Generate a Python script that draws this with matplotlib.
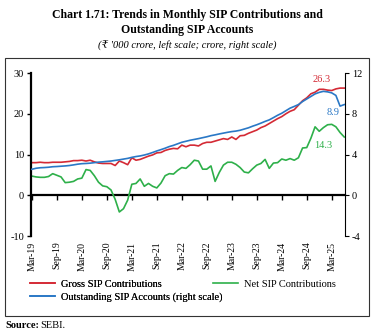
import numpy as np
import matplotlib.pyplot as plt
from matplotlib.lines import Line2D
from matplotlib.patches import Rectangle

plt.rcParams['font.family'] = ['Liberation Serif', 'DejaVu Serif']
plt.rcParams['axes.unicode_minus'] = False

# Monthly series, Mar-19 to Jun-25
tick_labels = ['Mar-19', 'Sep-19', 'Mar-20', 'Sep-20', 'Mar-21', 'Sep-21', 'Mar-22',
               'Sep-22', 'Mar-23', 'Sep-23', 'Mar-24', 'Sep-24', 'Mar-25']

gross_sip = [8.0, 8.0, 8.1, 8.0, 8.0, 8.1, 8.1, 8.1, 8.2, 8.3, 8.5, 8.5,
             8.6, 8.4, 8.6, 8.2, 7.9, 7.8, 7.8, 7.8, 7.3, 8.4, 8.0, 7.5,
             9.2, 8.6, 8.8, 9.2, 9.6, 9.9, 10.4, 10.5, 11.0, 11.3, 11.5, 11.4,
             12.3, 11.9, 12.3, 12.3, 12.1, 12.7, 13.0, 13.0, 13.3, 13.6, 13.9, 13.7,
             14.3, 13.7, 14.6, 14.7, 15.2, 15.6, 16.0, 16.6, 17.0, 17.6, 18.2, 18.8,
             19.3, 20.0, 20.6, 21.0, 22.1, 23.2, 23.9, 24.9, 25.3, 26.0, 26.0, 25.8,
             25.7, 26.1, 26.3, 26.3]

net_sip = [4.7, 4.5, 4.4, 4.4, 4.6, 5.3, 4.9, 4.5, 3.1, 3.2, 3.4, 4.0,
           4.2, 6.3, 6.1, 4.8, 3.2, 2.3, 2.1, 1.3, -1.0, -4.1, -3.3, -1.2,
           2.7, 2.9, 4.0, 2.2, 2.9, 2.2, 1.8, 3.0, 4.8, 5.3, 5.2, 6.1,
           6.8, 6.6, 7.5, 8.6, 8.4, 6.4, 6.4, 7.2, 3.4, 5.6, 7.4, 8.1,
           8.1, 7.6, 6.8, 5.7, 5.5, 6.5, 7.4, 7.8, 8.8, 6.6, 7.9, 8.0,
           8.9, 8.6, 9.0, 8.6, 9.2, 11.6, 11.7, 14.0, 16.8, 15.7, 16.6, 17.3,
           17.4, 16.8, 15.4, 14.3]

sip_accounts = [2.55, 2.65, 2.70, 2.72, 2.75, 2.80, 2.82, 2.85, 2.88, 2.92, 2.98, 3.05,
                3.10, 3.12, 3.15, 3.20, 3.25, 3.28, 3.32, 3.36, 3.42, 3.48, 3.55, 3.62,
                3.72, 3.80, 3.86, 3.95, 4.06, 4.20, 4.35, 4.48, 4.62, 4.78, 4.90, 5.05,
                5.20, 5.30, 5.40, 5.48, 5.56, 5.65, 5.74, 5.85, 5.93, 6.02, 6.10, 6.18,
                6.25, 6.30, 6.38, 6.50, 6.62, 6.78, 6.92, 7.08, 7.25, 7.40, 7.62, 7.85,
                8.05, 8.30, 8.55, 8.72, 8.90, 9.20, 9.45, 9.70, 9.95, 10.10, 10.20, 10.15,
                10.05, 9.80, 8.75, 8.90]

red = '#d42a35'
green = '#2eb04a'
blue = '#2a78c6'

x = np.arange(len(gross_sip))

fig = plt.figure(figsize=(3.74, 3.34), dpi=100)
ax = fig.add_axes([0.083, 0.2934, 0.8396, 0.488])
ax2 = ax.twinx()

ax.plot(x, gross_sip, color=red, lw=1.2)
ax.plot(x, net_sip, color=green, lw=1.2)
ax2.plot(x, sip_accounts, color=blue, lw=1.2)

ax.set_ylim(-10, 30)
ax2.set_ylim(-4, 12)
ax.set_xlim(-0.2, 75.2)
ax.set_yticks([-10, 0, 10, 20, 30])
ax2.set_yticks([-4, 0, 4, 8, 12])

ax.set_xticks(np.arange(0, 73, 6))
ax.set_xticklabels(tick_labels, rotation=90, fontsize=7)
ax.tick_params(axis='x', length=0, pad=4)
ax.tick_params(axis='y', labelsize=7.5, length=3, width=1, direction='out', pad=2)
ax2.tick_params(axis='y', labelsize=7.5, length=3, width=0.8, direction='out', pad=2)

for a in (ax, ax2):
    a.spines['top'].set_visible(False)
    a.spines['bottom'].set_visible(False)
ax.spines['left'].set_linewidth(1.6)
ax.spines['right'].set_visible(False)
ax2.spines['left'].set_visible(False)
ax2.spines['right'].set_linewidth(0.8)

# zero line with 6-monthly tick marks
zero_axis = ax.secondary_xaxis(0.25)
zero_axis.set_xticks(np.arange(0, 73, 6))
zero_axis.set_xticklabels([])
zero_axis.tick_params(length=3.5, width=1, direction='out')
zero_axis.spines['bottom'].set_linewidth(1.6)

# end-point values
ax.text(69.6, gross_sip[-1] + 2.1, f'{gross_sip[-1]:.1f}', color=red, fontsize=7.5,
        ha='center', va='center')
ax2.text(72.3, sip_accounts[-1] - 0.8, f'{sip_accounts[-1]:.1f}', color=blue, fontsize=7.5,
         ha='center', va='center')
ax.text(69.9, net_sip[-1] - 2.0, f'{net_sip[-1]:.1f}', color=green, fontsize=7.5,
        ha='center', va='center')

# legend
h_gross = Line2D([], [], color=red, lw=1.2)
h_net = Line2D([], [], color=green, lw=1.2)
h_acc = Line2D([], [], color=blue, lw=1.2)
leg_opts = dict(loc='upper left', frameon=False, fontsize=7.5, handlelength=2.4,
                handletextpad=0.6, labelspacing=0.35, borderpad=0, borderaxespad=0)
leg1 = fig.legend([h_gross, h_acc], ['Gross SIP Contributions', 'Outstanding SIP Accounts (right scale)'],
                  bbox_to_anchor=(0.08, 0.163), **leg_opts)
fig.add_artist(leg1)
fig.legend([h_net], ['Net SIP Contributions'], bbox_to_anchor=(0.57, 0.163), **leg_opts)

# titles and frame
fig.text(0.5, 0.955, 'Chart 1.71: Trends in Monthly SIP Contributions and', ha='center', va='center',
         fontsize=8.5, fontweight='bold')
fig.text(0.5, 0.91, 'Outstanding SIP Accounts', ha='center', va='center', fontsize=8.5, fontweight='bold')
fig.text(0.5, 0.862, "(₹ '000 crore, left scale; crore, right scale)", ha='center', va='center',
         fontsize=7.5, style='italic', family=['Liberation Serif', 'DejaVu Serif', 'Noto Sans'])
fig.add_artist(Rectangle((5 / 374, 1 - 316 / 334), 364 / 374, 258 / 334, transform=fig.transFigure,
                         fill=False, lw=0.8, edgecolor='#333333'))
fig.text(5 / 374, 1 - 326 / 334, 'Source:', fontsize=7.5, fontweight='bold', va='center')
fig.text(40 / 374, 1 - 326 / 334, 'SEBI.', fontsize=7.5, va='center')

fig.savefig('out.png', dpi=100)
